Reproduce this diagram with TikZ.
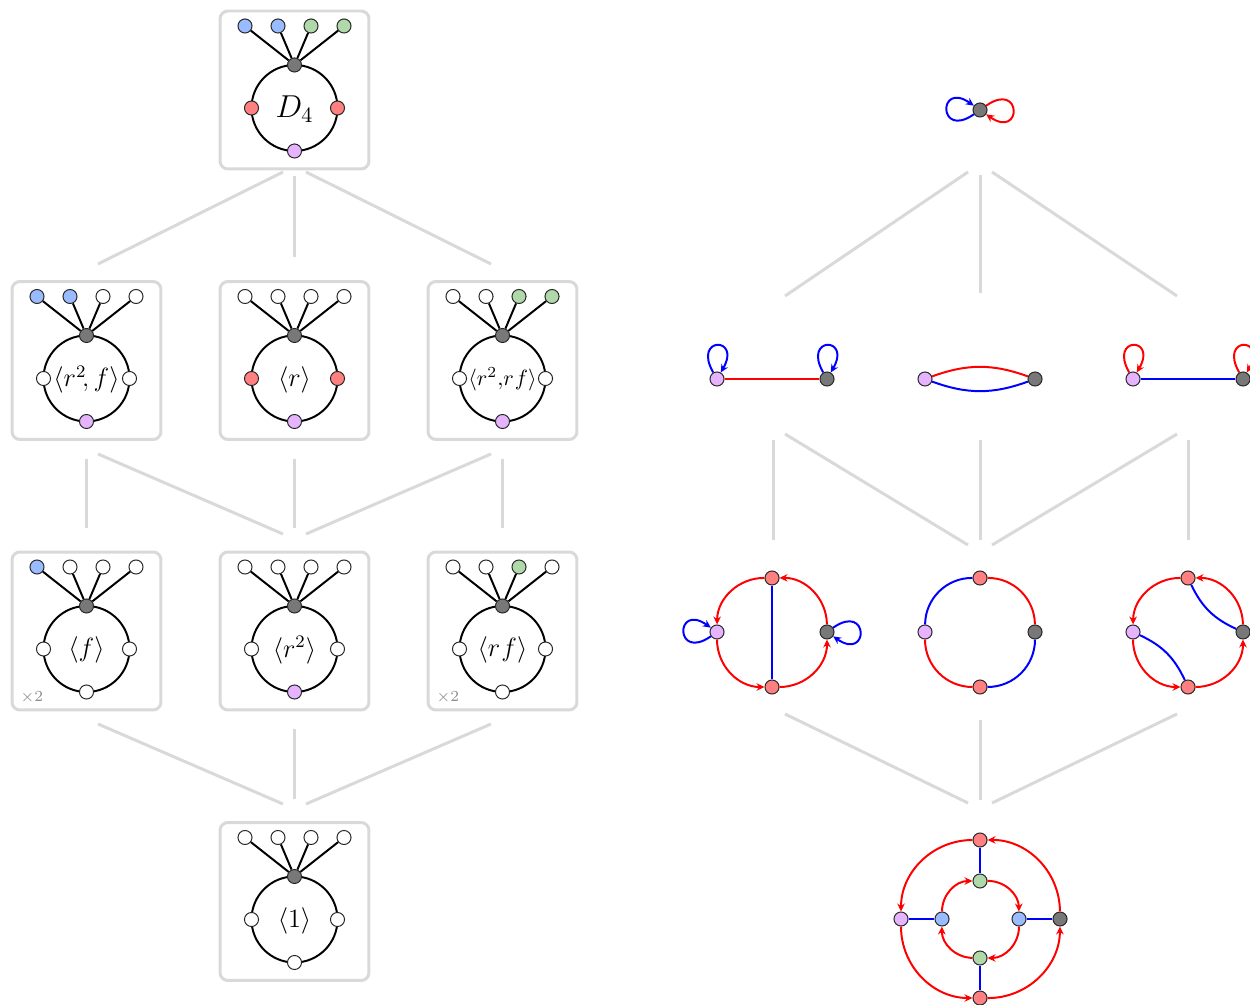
\documentclass[tikz,border=0pt]{standalone}
\usetikzlibrary{arrows.meta,calc}
\definecolor{cB}{RGB}{153,187,255}
\definecolor{cG}{RGB}{176,216,168}
\definecolor{cR}{RGB}{255,128,128}
\definecolor{cP}{RGB}{230,180,255}
\definecolor{cK}{RGB}{120,120,120}
\definecolor{cL}{RGB}{217,217,217}
\definecolor{cW}{RGB}{255,255,255}
\tikzset{
  gbox/.style={draw=cL, line width=1.36pt, rounded corners=3.6pt, minimum width=67.7pt, minimum height=71.8pt, inner sep=0pt},
  vtx/.style={circle, draw=black!85, line width=0.45pt, inner sep=0pt, minimum size=6.4pt},
  ring/.style={line width=0.9pt},
  spoke/.style={line width=0.9pt},
  lat/.style={draw=cL, line width=1.36pt},
  re/.style={red, line width=0.9pt},
  be/.style={blue, line width=0.9pt},
  arr/.style={-{Stealth[length=3.6pt,width=3.4pt]}},
  lab/.style={inner sep=0pt},
  mult/.style={text=black!45, inner sep=0pt, font=\scriptsize},
}
% #1 name, #2 position, #3-#6 leaf colours, #7 side colour, #8 bottom colour, #9 label
\newcommand\grpbox[9]{%
\begin{scope}[shift={#2}]
  \node[gbox] (#1) at (0,0) {};
  \draw[ring] (0,-18) circle (43);
  \node[vtx,fill=cK] (#1t) at (0,25) {};
  \node[vtx,fill=#3] (#1a) at (-49.5,64) {};
  \node[vtx,fill=#4] (#1b) at (-16.5,64) {};
  \node[vtx,fill=#5] (#1c) at (16.5,64) {};
  \node[vtx,fill=#6] (#1d) at (49.5,64) {};
  \draw[spoke] (#1t) -- (#1a);
  \draw[spoke] (#1t) -- (#1b);
  \draw[spoke] (#1t) -- (#1c);
  \draw[spoke] (#1t) -- (#1d);
  \node[vtx,fill=#7] (#1l) at (-43,-18) {};
  \node[vtx,fill=#7] (#1r) at (43,-18) {};
  \node[vtx,fill=#8] (#1s) at (0,-61) {};
  \node[lab] (#1x) at (0,-19) {#9};
\end{scope}}
\begin{document}
\begin{tikzpicture}[x=0.4545pt,y=0.4545pt]
\useasboundingbox (0,0) rectangle (1250,-1005);

% ---------------- left lattice ----------------
\grpbox{TB}{(294.5,-90)}{cB}{cB}{cG}{cG}{cR}{cP}{\Large$D_4$}
\grpbox{A2}{(86.5,-360.5)}{cB}{cB}{cW}{cW}{cW}{cP}{\large$\langle r^2\!, f\rangle$}
\grpbox{B2}{(294.5,-360.5)}{cW}{cW}{cW}{cW}{cR}{cP}{\large$\langle r\rangle$}
\grpbox{C2}{(502.5,-360.5)}{cW}{cW}{cG}{cG}{cW}{cP}{$\langle r^2{,}r\hspace{0.5pt}f\rangle$}
\grpbox{A3}{(86.5,-631)}{cB}{cW}{cW}{cW}{cW}{cW}{\large$\langle f\rangle$}
\grpbox{B3}{(294.5,-631)}{cW}{cW}{cW}{cW}{cW}{cP}{\large$\langle r^2\rangle$}
\grpbox{C3}{(502.5,-631)}{cW}{cW}{cG}{cW}{cW}{cW}{\large$\langle r\hspace{0.5pt}f\rangle$}
\grpbox{B4}{(294.5,-901.5)}{cW}{cW}{cW}{cW}{cW}{cW}{\large$\langle 1\rangle$}
\node[mult] (m1) at ($(A3)+(-54.5,-66)$) {$\times2$};
\node[mult] (m2) at ($(C3)+(-54.5,-66)$) {$\times2$};

\draw[lat] ($(TB)+(-11.5,-82)$) -- ($(A2)+(11.5,96.5)$);
\draw[lat] ($(TB)+(0,-86)$) -- ($(B2)+(0,103.5)$);
\draw[lat] ($(TB)+(11.5,-82)$) -- ($(C2)+(-11.5,96.5)$);
\draw[lat] ($(A2)+(0,-98.5)$) -- ($(A3)+(0,103)$);
\draw[lat] ($(A2)+(11.5,-93.5)$) -- ($(B3)+(-11.5,97)$);
\draw[lat] ($(B2)+(0,-98.5)$) -- ($(B3)+(0,103)$);
\draw[lat] ($(C2)+(-11.5,-93.5)$) -- ($(B3)+(11.5,97)$);
\draw[lat] ($(C2)+(0,-98.5)$) -- ($(C3)+(0,103)$);
\draw[lat] ($(A3)+(11.5,-93)$) -- ($(B4)+(-11.5,97.5)$);
\draw[lat] ($(B3)+(0,-98)$) -- ($(B4)+(0,102.5)$);
\draw[lat] ($(C3)+(-11.5,-93)$) -- ($(B4)+(11.5,97.5)$);

% ---------------- right lattice ----------------
\coordinate (R1) at (980,-110);
\coordinate (Ra2) at (772,-379);
\coordinate (Rb2) at (980,-379);
\coordinate (Rc2) at (1188,-379);
\coordinate (Ra3) at (772,-632);
\coordinate (Rb3) at (980,-632);
\coordinate (Rc3) at (1188,-632);
\coordinate (R4) at (980,-919);

\draw[lat] ($(R1)+(-12,-62)$) -- ($(Ra2)+(13,83)$);
\draw[lat] ($(R1)+(0,-65)$) -- ($(Rb2)+(0,86)$);
\draw[lat] ($(R1)+(12,-62)$) -- ($(Rc2)+(-11,83)$);
\draw[lat] ($(Ra2)+(1,-61)$) -- ($(Ra3)+(1,92)$);
\draw[lat] ($(Ra2)+(13,-55)$) -- ($(Rb3)+(-12,87)$);
\draw[lat] ($(Rb2)+(0,-61)$) -- ($(Rb3)+(0,92)$);
\draw[lat] ($(Rc2)+(-11,-55)$) -- ($(Rb3)+(12,87)$);
\draw[lat] ($(Rc2)+(0,-61)$) -- ($(Rc3)+(0,92)$);
\draw[lat] ($(Ra3)+(13,-82)$) -- ($(R4)+(-12,116)$);
\draw[lat] ($(Rb3)+(0,-88)$) -- ($(R4)+(0,119)$);
\draw[lat] ($(Rc3)+(-11,-82)$) -- ($(R4)+(12,116)$);

% top graph
\node[vtx,fill=cK] (t0) at (R1) {};
\draw[be,arr] (t0) to[out=215,in=145,min distance=20pt] (t0);
\draw[re,arr] (t0) to[out=35,in=-35,min distance=20pt] (t0);

% row 2
\node[vtx,fill=cP] (a2p) at (717,-379) {};
\node[vtx,fill=cK] (a2k) at (827,-379) {};
\draw[re] (a2p) -- (a2k);
\draw[be,arr] (a2p) to[out=120,in=60,min distance=19pt] (a2p);
\draw[be,arr] (a2k) to[out=120,in=60,min distance=19pt] (a2k);

\node[vtx,fill=cP] (b2p) at (925,-379) {};
\node[vtx,fill=cK] (b2k) at (1035,-379) {};
\draw[re] (b2p) to[bend left=20] (b2k);
\draw[be] (b2p) to[bend right=20] (b2k);

\node[vtx,fill=cP] (c2p) at (1133,-379) {};
\node[vtx,fill=cK] (c2k) at (1243,-379) {};
\draw[be] (c2p) -- (c2k);
\draw[re,arr] (c2p) to[out=120,in=60,min distance=19pt] (c2p);
\draw[re,arr] (c2k) to[out=120,in=60,min distance=19pt] (c2k);

% row 3 a
\node[vtx,fill=cR] (a3t) at (772,-578) {};
\node[vtx,fill=cP] (a3l) at (717,-632) {};
\node[vtx,fill=cK] (a3r) at (827,-632) {};
\node[vtx,fill=cR] (a3b) at (772,-687) {};
\draw[re,arr] (a3t) to[bend right=45] (a3l);
\draw[re,arr] (a3l) to[bend right=45] (a3b);
\draw[re,arr] (a3b) to[bend right=45] (a3r);
\draw[re,arr] (a3r) to[bend right=45] (a3t);
\draw[be] (a3t) -- (a3b);
\draw[be,arr] (a3l) to[out=215,in=145,min distance=20pt] (a3l);
\draw[be,arr] (a3r) to[out=35,in=-35,min distance=20pt] (a3r);

% row 3 b
\node[vtx,fill=cR] (b3t) at (980,-578) {};
\node[vtx,fill=cP] (b3l) at (925,-632) {};
\node[vtx,fill=cK] (b3r) at (1035,-632) {};
\node[vtx,fill=cR] (b3b) at (980,-687) {};
\draw[be] (b3l) to[bend left=45] (b3t);
\draw[re] (b3t) to[bend left=45] (b3r);
\draw[re] (b3l) to[bend right=45] (b3b);
\draw[be] (b3b) to[bend right=45] (b3r);

% row 3 c
\node[vtx,fill=cR] (c3t) at (1188,-578) {};
\node[vtx,fill=cP] (c3l) at (1133,-632) {};
\node[vtx,fill=cK] (c3r) at (1243,-632) {};
\node[vtx,fill=cR] (c3b) at (1188,-687) {};
\draw[re,arr] (c3t) to[bend right=45] (c3l);
\draw[re,arr] (c3l) to[bend right=45] (c3b);
\draw[re,arr] (c3b) to[bend right=45] (c3r);
\draw[re,arr] (c3r) to[bend right=45] (c3t);
\draw[be] (c3t) to[bend right=20] (c3r);
\draw[be] (c3l) to[bend left=20] (c3b);

% row 4
\node[vtx,fill=cR] (d4t) at (980,-840) {};
\node[vtx,fill=cP] (d4l) at (901,-919) {};
\node[vtx,fill=cK] (d4r) at (1060,-919) {};
\node[vtx,fill=cR] (d4b) at (980,-998) {};
\node[vtx,fill=cG] (d4it) at (980,-881) {};
\node[vtx,fill=cB] (d4il) at (942,-919) {};
\node[vtx,fill=cB] (d4ir) at (1019,-919) {};
\node[vtx,fill=cG] (d4ib) at (980,-958) {};
\draw[be] (d4t) -- (d4it);
\draw[be] (d4l) -- (d4il);
\draw[be] (d4ir) -- (d4r);
\draw[be] (d4ib) -- (d4b);
\draw[re,arr] (d4t) to[bend right=45] (d4l);
\draw[re,arr] (d4l) to[bend right=45] (d4b);
\draw[re,arr] (d4b) to[bend right=45] (d4r);
\draw[re,arr] (d4r) to[bend right=45] (d4t);
\draw[re,arr] (d4il) to[bend left=45] (d4it);
\draw[re,arr] (d4it) to[bend left=45] (d4ir);
\draw[re,arr] (d4ir) to[bend left=45] (d4ib);
\draw[re,arr] (d4ib) to[bend left=45] (d4il);
\end{tikzpicture}
\end{document}
